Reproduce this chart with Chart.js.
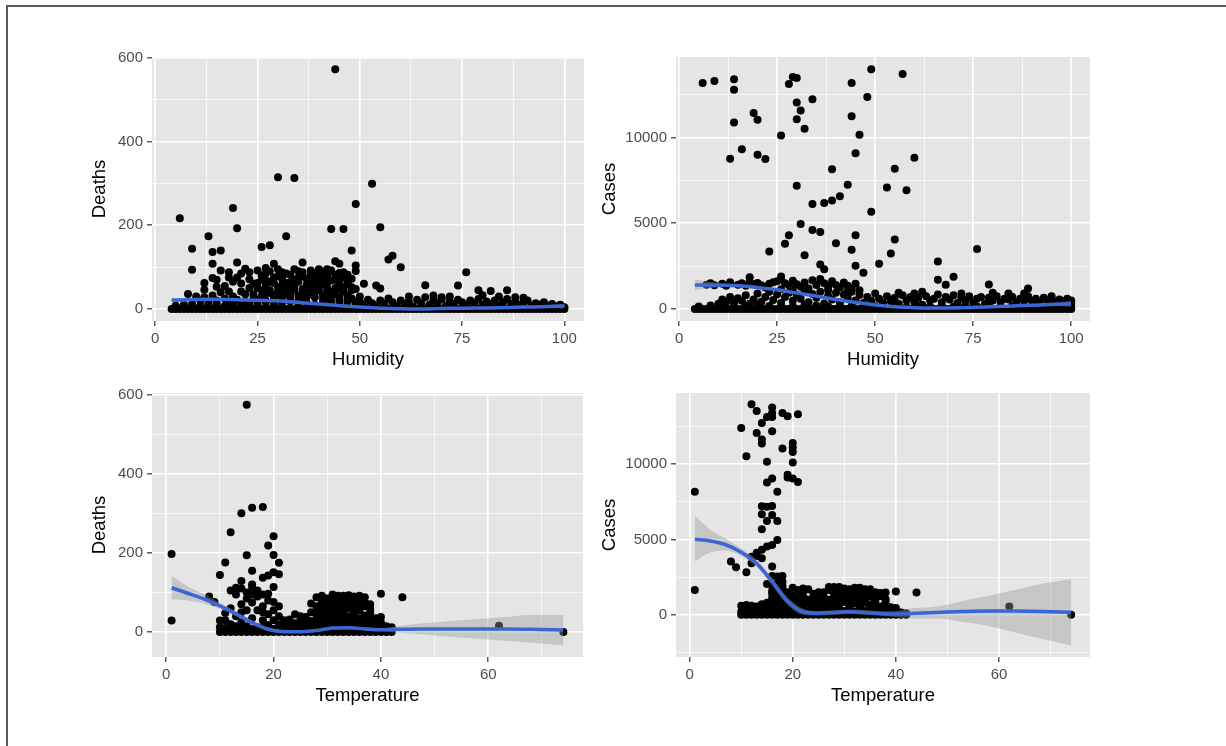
<!DOCTYPE html>
<html lang="en">
<head>
<meta charset="UTF-8">
<title>Deaths and cases against humidity and temperature</title>
<script src="https://cdn.jsdelivr.net/npm/chart.js"></script>
<style>
    body {
        margin: 0;
        width: 1226px;
        height: 746px;
        overflow: hidden;
        position: relative;
        background: #fff;
        font-family: "Liberation Sans", Arial, sans-serif;
    }

    .frame {
        position: absolute;
        left: 6px;
        top: 5px;
        right: 0;
        bottom: 0;
        border-left: 2px solid #5a5a5a;
        border-top: 2px solid #5a5a5a;
    }

    .panel {
        position: absolute;
    }
</style>
</head>
<body>
<div class="frame"></div>
<div class="panel" style="left:80px;top:40px;width:512px;height:345px"><canvas id="humDeaths"></canvas></div>
<div class="panel" style="left:592px;top:40px;width:510px;height:345px"><canvas id="humCases"></canvas></div>
<div class="panel" style="left:80px;top:376px;width:512px;height:345px"><canvas id="tempDeaths"></canvas></div>
<div class="panel" style="left:592px;top:376px;width:510px;height:345px"><canvas id="tempCases"></canvas></div>

<script>
// axis breaks
const humidityTicks = [0, 25, 50, 75, 100];
const humidityMinor = [12.5, 37.5, 62.5, 87.5];
const temperatureTicks = [0, 20, 40, 60];
const temperatureMinor = [10, 30, 50, 70];
const deathTicks = [0, 200, 400, 600];
const deathMinor = [100, 300, 500];
const caseTicks = [0, 5000, 10000];
const caseMinor = [-2500, 2500, 7500, 12500];

// points sitting on zero
const humidityZeros = [4, 5, 6, 7, 8, 9, 10, 11, 12, 13, 14, 15, 16, 17, 18, 19, 20, 21, 22, 23, 24, 25, 26, 27, 28, 29, 30,
    31, 32, 33, 34, 35, 36, 37, 38, 39, 40, 41, 42, 43, 44, 45, 46, 47, 48, 49, 50, 51, 52, 53, 54, 55, 56, 57, 58, 59, 60,
    61, 62, 63, 64, 65, 66, 67, 68, 69, 70, 71, 72, 73, 74, 75, 76, 77, 78, 79, 80, 81, 82, 83, 84, 85, 86, 87, 88, 89, 90,
    91, 92, 93, 94, 95, 96, 97, 98, 99, 100];
const temperatureZeros = [10, 11, 12, 13, 14, 15, 16, 17, 18, 19, 20, 21, 22, 23, 24, 25, 26, 27, 28, 29, 30,
    31, 32, 33, 34, 35, 36, 37, 38, 39, 40, 41, 42];

// humidity vs deaths
const humidityDeaths = [
    [44, 573], [30, 315], [34, 313], [53, 299], [49, 251], [19, 241], [6, 217], [20, 193], [43, 191], [46, 191], [55, 195],
    [32, 174], [13, 174], [9, 144], [14, 136], [16, 140], [26, 148], [28, 152], [48, 140], [57, 118], [58, 127], [60, 100],
    [9, 94], [14, 108], [20, 111], [36, 111], [44, 114], [45, 108], [49, 104], [49, 91], [76, 88], [14, 74], [15, 53], [12, 46],
    [51, 60], [54, 56], [55, 49], [49, 48], [66, 57], [74, 56], [79, 45], [82, 43], [86, 45], [8, 36], [18, 88], [16, 92],
    [22, 96], [25, 92], [27, 98], [23, 71], [18, 42], [21, 42], [21, 61],
    [27, 85], [29, 108], [30, 95], [31, 88], [33, 82], [35, 90], [36, 78], [38, 92], [39, 85], [40, 95], [41, 88], [42, 80],
    [43, 92], [45, 86], [46, 75], [47, 82],
    [26, 70], [28, 65], [29, 75], [31, 72], [32, 62], [34, 70], [35, 65], [37, 72], [38, 60], [40, 68], [41, 75], [42, 62],
    [44, 70], [45, 60], [47, 65], [48, 72],
    [25, 50], [27, 55], [28, 45], [30, 52], [31, 42], [33, 50], [34, 56], [36, 48], [37, 40], [39, 52], [40, 45], [42, 50],
    [43, 40], [45, 48], [46, 42], [48, 52],
    [24, 35], [26, 30], [27, 38], [29, 32], [30, 25], [32, 35], [33, 28], [35, 32], [36, 25], [38, 36], [39, 28], [41, 32],
    [42, 25], [44, 35], [45, 28], [47, 33], [48, 25], [50, 30],
    [26, 80], [28, 90], [30, 78], [32, 85], [34, 95], [36, 88], [38, 80], [40, 78], [42, 95], [44, 82], [46, 88],
    [25, 62], [27, 68], [29, 62], [31, 58], [33, 64], [35, 75], [37, 58], [39, 70], [41, 60], [43, 68], [45, 72], [47, 58],
    [26, 44], [28, 38], [30, 42], [32, 52], [34, 46], [36, 38], [38, 45], [40, 55], [42, 42], [44, 50], [46, 52], [48, 45],
    [25, 22], [27, 20], [29, 24], [31, 28], [33, 38], [35, 20], [37, 30], [39, 40], [41, 22], [43, 30], [45, 20], [47, 22],
    [49, 18],
    [11, 20], [12, 28], [13, 15], [14, 32], [15, 20], [16, 40], [17, 25], [17, 55], [18, 18], [19, 65], [19, 30], [20, 22],
    [21, 85], [22, 35], [22, 18], [23, 50], [24, 25], [24, 60], [12, 62], [10, 30], [15, 70], [18, 75], [20, 75], [23, 88],
    [5, 8], [7, 10], [9, 12], [11, 8], [13, 10], [15, 12], [17, 8], [19, 12], [21, 10], [23, 14], [25, 12], [27, 16],
    [29, 10], [31, 14], [33, 18], [35, 12], [37, 16], [39, 10], [41, 14], [43, 18], [45, 12], [47, 16], [49, 10],
    [50, 18], [51, 10], [52, 22], [53, 14], [54, 8], [55, 20], [56, 12], [57, 25], [58, 16], [59, 8], [60, 20], [61, 12],
    [62, 18], [63, 6], [64, 22], [65, 14], [66, 28], [67, 10], [68, 20], [69, 15], [70, 24], [71, 8], [72, 18], [73, 12],
    [74, 22], [75, 16], [76, 10], [77, 20], [78, 14], [79, 24], [80, 10], [81, 18], [82, 12], [83, 20], [84, 8], [85, 16],
    [86, 24], [87, 12], [88, 18], [89, 10], [90, 15], [91, 20], [92, 8], [93, 14], [94, 10], [95, 16], [96, 8], [97, 12],
    [98, 6], [99, 10], [100, 4],
    [62, 30], [68, 32], [72, 30], [80, 33], [84, 30], [88, 28], [90, 27], [70, 28]
];

// humidity vs cases
const humidityCases = [
    [6, 13180], [9, 13300], [14, 13400], [14, 12790], [14, 10880], [13, 8770], [16, 9320], [19, 11430], [20, 11040],
    [20, 9000], [22, 8750], [26, 10120], [28, 13130], [29, 13540], [30, 13480], [30, 12050], [31, 11580], [30, 11070],
    [32, 10510], [34, 12230], [30, 7190], [31, 4960], [34, 6130], [34, 4610], [36, 4490], [37, 6190], [39, 6330],
    [39, 8150], [41, 6580], [43, 7250], [44, 13180], [44, 11250], [45, 9080], [46, 10160], [48, 12360], [49, 13980],
    [49, 5680], [57, 13710], [60, 8830], [53, 7090], [55, 8180], [58, 6930], [23, 3360], [27, 3810], [28, 4300],
    [32, 3130], [36, 2600], [37, 2320], [40, 3830], [44, 3460], [45, 4300], [45, 2520], [47, 2110], [51, 2640],
    [54, 3240], [55, 4060], [66, 2770], [70, 1880], [76, 3500], [79, 1430], [89, 1190],
    [66, 1700], [68, 1420], [26, 1900], [18, 1850], [24, 1560],
    [7, 1420], [8, 1500], [9, 1380], [11, 1470], [12, 1350], [13, 1560], [15, 1420], [16, 1500], [17, 1350], [18, 1600],
    [19, 1450], [20, 1520], [21, 1380], [22, 1250], [23, 1480], [25, 1620], [26, 1750], [27, 1500], [28, 1380],
    [29, 1650], [30, 1450], [31, 1300], [32, 1550], [33, 1200], [34, 1680], [35, 1400], [36, 1750], [37, 1500],
    [38, 1300], [39, 1620], [40, 1400], [41, 1250], [42, 1550], [43, 1350], [44, 1200], [45, 1480], [46, 1100],
    [10, 300], [11, 550], [12, 420], [13, 700], [14, 350], [15, 620], [16, 480], [17, 800], [18, 300], [19, 560],
    [20, 900], [21, 420], [22, 700], [23, 1000], [24, 520], [25, 850], [26, 350], [27, 700], [28, 950], [29, 480],
    [30, 820], [31, 600], [32, 1050], [33, 400], [34, 880], [35, 650], [36, 1000], [37, 320], [38, 780], [39, 550],
    [40, 950], [41, 400], [42, 850], [43, 650], [44, 1000], [45, 500], [46, 820], [47, 350], [48, 700], [49, 480],
    [50, 900], [26, 1150], [29, 1100], [33, 1000], [38, 1100], [43, 1050],
    [5, 150], [8, 200], [11, 150], [14, 220], [17, 160], [20, 240], [23, 180], [26, 220], [29, 160], [32, 240],
    [35, 200], [38, 150], [41, 250], [44, 180], [47, 220], [50, 160],
    [51, 600], [52, 350], [53, 750], [54, 450], [55, 650], [56, 300], [57, 800], [58, 500], [59, 700], [60, 400],
    [61, 650], [62, 250], [63, 750], [64, 500], [65, 600], [66, 850], [67, 400], [68, 700], [69, 550], [70, 800],
    [71, 350], [72, 650], [73, 500], [74, 750], [75, 400], [76, 600], [77, 700], [78, 300], [79, 650], [80, 500],
    [81, 750], [82, 400], [83, 600], [84, 550], [85, 700], [86, 350], [87, 600], [88, 500], [89, 750], [90, 450],
    [91, 600], [92, 350], [93, 650], [94, 500], [95, 600], [96, 400], [97, 550], [98, 450], [99, 600], [100, 350],
    [100, 500],
    [52, 150], [55, 200], [58, 120], [61, 180], [64, 150], [67, 200], [70, 140], [73, 190], [76, 150], [79, 200],
    [82, 130], [85, 180], [88, 160], [91, 200], [94, 140], [97, 180], [100, 150],
    [56, 950], [62, 1000], [72, 900], [80, 950], [88, 900], [95, 750], [84, 900], [60, 900]
];

// temperature vs deaths
const temperatureDeaths = [
    [1, 197], [1, 29], [15, 574], [18, 316], [16, 314], [14, 300], [12, 252], [20, 242], [19, 219], [15, 194], [20, 195],
    [11, 176], [21, 175], [16, 155], [21, 146], [20, 151], [19, 143], [18, 137], [10, 144], [14, 129], [13, 112],
    [16, 114], [20, 114], [19, 97], [20, 76], [8, 90], [9, 76], [11, 48], [10, 29], [40, 97], [44, 88], [40, 38],
    [62, 16], [74, 0],
    [12, 20], [12, 60], [13, 95], [13, 40], [14, 110], [14, 70], [14, 25], [15, 100], [15, 55], [15, 85], [16, 120],
    [16, 75], [16, 35], [17, 90], [17, 55], [17, 105], [18, 65], [18, 30], [18, 95], [19, 45], [19, 80], [20, 55],
    [20, 30], [21, 40], [21, 65], [13, 15], [15, 15], [17, 12], [19, 18], [21, 20], [12, 105], [16, 95], [18, 50],
    [14, 50], [11, 30], [11, 10], [12, 8], [13, 5], [14, 8], [10, 12], [16, 8], [18, 10], [20, 8], [22, 15], [22, 30],
    [28, 88], [29, 92], [30, 85], [31, 95], [32, 88], [33, 92], [34, 85], [35, 90], [36, 82], [37, 88],
    [27, 72], [28, 65], [29, 78], [30, 70], [31, 62], [32, 75], [33, 68], [34, 72], [35, 60], [36, 70], [37, 65], [38, 58],
    [24, 45], [25, 40], [26, 38], [27, 50], [28, 48], [29, 42], [30, 55], [31, 50], [32, 45], [33, 52], [34, 40],
    [35, 48], [36, 55], [37, 42], [38, 50], [39, 35],
    [22, 25], [23, 32], [24, 22], [25, 30], [26, 20], [27, 28], [28, 22], [29, 30], [30, 25], [31, 20], [32, 28],
    [33, 22], [34, 30], [35, 25], [36, 18], [37, 28], [38, 22], [39, 18], [40, 25], [41, 15], [42, 12],
    [22, 8], [23, 12], [24, 6], [25, 10], [26, 5], [27, 12], [28, 8], [29, 10], [30, 6], [31, 12], [32, 8], [33, 10],
    [34, 5], [35, 12], [36, 8], [37, 10], [38, 6], [39, 10], [40, 8], [41, 6],
    [23, 18], [25, 16], [27, 18], [29, 16], [31, 35], [33, 36], [35, 36], [37, 16], [39, 26], [26, 30], [28, 35],
    [30, 38], [32, 18], [34, 16], [36, 35], [38, 36], [40, 15],
    [29, 60], [30, 63], [32, 58], [33, 80], [34, 60], [35, 78], [36, 62], [31, 80], [29, 85], [32, 92], [34, 93],
    [36, 92], [37, 75], [38, 70], [30, 45], [31, 32]
];

// temperature vs cases
const temperatureCases = [
    [12, 13970], [13, 13530], [14, 12730], [15, 13130], [16, 13750], [16, 13400], [16, 13130], [18, 13400], [19, 13180],
    [21, 13310], [10, 12400], [13, 12070], [14, 11630], [14, 11370], [16, 12180], [18, 11040], [20, 11410], [20, 11100],
    [20, 10810], [11, 10530], [15, 10150], [20, 10110], [15, 8780], [16, 9050], [19, 9290], [19, 9120], [20, 9050],
    [21, 8810], [1, 8170], [17, 8170], [14, 7200], [15, 7170], [16, 7220], [14, 6670], [16, 6620], [15, 6220],
    [17, 6220], [14, 5670], [17, 4970], [16, 4640], [15, 4530], [14, 4310], [13, 4120], [12, 3860], [13, 3900],
    [12, 3420], [14, 3750], [8, 3530], [9, 3160], [11, 2830], [16, 3200], [16, 2580], [17, 2540], [18, 2580],
    [1, 1650], [44, 1480], [40, 1540], [38, 1480], [62, 550], [74, 0],
    [10, 600], [11, 650], [12, 300], [13, 550], [14, 400], [15, 800], [16, 1100], [16, 1600], [17, 1300], [17, 900],
    [18, 1700], [18, 1200], [19, 1500], [19, 800], [20, 1800], [20, 1300], [21, 1650], [21, 1000], [22, 1750],
    [22, 1200], [15, 400], [16, 700], [17, 500], [18, 900], [19, 400], [20, 600], [21, 500], [22, 800], [16, 2000],
    [17, 2100], [18, 2200], [15, 2050],
    [10, 200], [11, 300], [12, 600], [13, 250], [14, 700], [15, 200], [16, 300], [17, 200], [18, 400], [19, 200],
    [20, 300], [21, 200], [22, 400], [16, 1400], [17, 1700], [18, 1900], [19, 1100], [20, 1000], [21, 1300],
    [23, 1700], [25, 1500], [27, 1650], [28, 1850], [29, 1600], [30, 1750], [31, 1500], [32, 1800], [33, 1650],
    [34, 1550], [35, 1700], [36, 1500],
    [22, 1300], [24, 1100], [25, 1350], [26, 1200], [27, 1000], [28, 1300], [29, 1150], [30, 1400], [31, 1100],
    [32, 1250], [33, 1050], [34, 1350], [35, 1200], [36, 1000], [37, 1250], [38, 900],
    [22, 600], [23, 800], [24, 650], [25, 750], [26, 550], [27, 800], [28, 650], [29, 700], [30, 850], [31, 600],
    [32, 750], [33, 550], [34, 800], [35, 650], [36, 700], [37, 550], [38, 650], [39, 500], [40, 450],
    [22, 250], [23, 300], [24, 200], [25, 350], [26, 250], [27, 300], [28, 200], [29, 350], [30, 250], [31, 300],
    [32, 200], [33, 350], [34, 250], [35, 300], [36, 200], [37, 300], [38, 250], [39, 200], [40, 250], [41, 150],
    [42, 100],
    [22, 450], [23, 1000], [24, 450], [25, 1000], [26, 900], [27, 450], [28, 1000], [29, 450], [30, 1050], [31, 450],
    [32, 1000], [33, 450], [34, 1050], [35, 450], [36, 950], [37, 450], [38, 1050], [39, 300], [40, 350],
    [24, 1400], [26, 1500], [28, 1550], [30, 1600], [32, 1450], [33, 1400], [34, 1700], [36, 1300], [37, 1450],
    [27, 1850], [29, 1850], [31, 1700], [33, 1800]
];

// smoothers (fit, lower and upper band)
const humidityFitX = [4, 8, 12, 16, 20, 24, 28, 32, 36, 40, 44, 48, 52, 56, 60, 64, 68, 72, 76, 80, 84, 88, 92, 96, 100];
const humDeathsFit = [21, 22, 23, 23, 22, 21, 20, 18, 15, 12, 9, 6, 3.5, 1.5, 0.5, 0, 0.5, 1.5, 2, 2.5, 3, 4, 5, 6, 7];
const humDeathsLo = [16, 18, 20, 20, 20, 19, 18, 16, 13, 10, 7, 4, 1.5, -0.5, -1.5, -2, -1.5, -0.5, 0, 0.5, 1, 1.5, 2, 2.5, 2];
const humDeathsHi = [26, 26, 26, 26, 24, 23, 22, 20, 17, 14, 11, 8, 5.5, 3.5, 2.5, 2, 2.5, 3.5, 4, 4.5, 5, 6.5, 8, 9.5, 12];
const humCasesFit = [1400, 1400, 1380, 1340, 1260, 1150, 1010, 860, 710, 560, 420, 300, 190, 110, 70, 55, 60, 75, 100,
    130, 165, 200, 235, 270, 310];
const humCasesLo = [1080, 1220, 1280, 1260, 1190, 1085, 950, 800, 650, 500, 360, 240, 130, 50, 10, 0, 5, 20, 45, 75,
    105, 135, 160, 175, 130];
const humCasesHi = [1720, 1580, 1480, 1420, 1330, 1215, 1070, 920, 770, 620, 480, 360, 250, 170, 130, 110, 115, 130,
    155, 185, 225, 265, 310, 365, 490];

const temperatureFitX = [1, 4, 7, 10, 13, 16, 19, 22, 25, 28, 31, 34, 37, 40, 43, 48, 53, 58, 63, 68, 74];
const tempDeathsFit = [112, 98, 84, 66, 46, 24, 7, 1, 1, 4, 10, 11, 8, 6, 7, 8, 8, 8, 8, 7, 5];
const tempDeathsLo = [82, 80, 72, 58, 40, 18, 2, -3, -3, 0, 6, 7, 4, 2, -1, -6, -12, -17, -22, -27, -33];
const tempDeathsHi = [143, 116, 96, 74, 52, 30, 12, 5, 5, 8, 14, 15, 12, 10, 15, 22, 28, 33, 38, 43, 43];
const tempCasesFit = [5010, 4900, 4650, 4150, 3400, 2200, 900, 200, 100, 150, 200, 150, 90, 50, 90, 150, 220, 260,
    250, 220, 170];
const tempCasesLo = [3540, 4150, 4250, 3900, 3150, 1950, 650, 0, -50, 0, 50, 0, -60, -150, -250, -250, -480, -740,
    -1150, -1580, -2030];
const tempCasesHi = [6550, 5650, 5050, 4400, 3650, 2450, 1150, 400, 250, 300, 350, 300, 240, 250, 430, 550, 920,
    1260, 1650, 2020, 2370];

const fontFamily = '"Liberation Sans", Arial, sans-serif';

// grey panel background like ggplot
const panelBackground = {
    id: 'panelBackground',
    beforeDraw(chart) {
        const a = chart.chartArea;
        const ctx = chart.ctx;
        ctx.save();
        ctx.fillStyle = '#E5E5E5';
        ctx.fillRect(a.left, a.top, a.right - a.left, a.bottom - a.top);
        ctx.restore();
    }
};

function axis(title, min, max, major, minor, size, titlePadding) {
    const all = major.concat(minor).sort((a, b) => a - b);
    const isMajor = c => c.tick && major.includes(c.tick.value);
    return {
        type: 'linear',
        min: min,
        max: max,
        afterBuildTicks: s => { s.ticks = all.map(v => ({ value: v })); },
        afterFit: s => {
            if (s.isHorizontal()) s.height = size; else s.width = size;
        },
        ticks: {
            color: '#4D4D4D',
            font: { family: fontFamily, size: 15 },
            padding: 4,
            autoSkip: false,
            maxRotation: 0,
            callback: v => major.includes(v) ? String(v) : ''
        },
        grid: {
            color: '#FFFFFF',
            lineWidth: c => isMajor(c) ? 1.6 : 0.7,
            tickLength: 5,
            tickWidth: 1.2,
            tickColor: c => isMajor(c) ? '#333333' : 'rgba(0,0,0,0)'
        },
        border: { display: false },
        title: {
            display: true,
            text: title,
            color: '#000000',
            font: { family: fontFamily, size: 18.5 },
            padding: titlePadding
        }
    };
}

function makePanel(id, p) {
    const points = p.points.map(d => ({ x: d[0], y: d[1] }));
    p.zeros.forEach(x => points.push({ x: x, y: 0 }));
    const curve = ys => p.fitX.map((x, i) => ({ x: x, y: ys[i] }));

    new Chart(document.getElementById(id), {
        type: 'scatter',
        data: {
            datasets: [
                { data: curve(p.fit), showLine: true, borderColor: '#3A66D6', borderWidth: 3.5, pointRadius: 0,
                  cubicInterpolationMode: 'monotone', fill: false, order: 0 },
                { data: curve(p.lo), showLine: true, borderWidth: 0, borderColor: 'rgba(0,0,0,0)', pointRadius: 0,
                  cubicInterpolationMode: 'monotone', fill: false, order: 1 },
                { data: curve(p.hi), showLine: true, borderWidth: 0, borderColor: 'rgba(0,0,0,0)', pointRadius: 0,
                  cubicInterpolationMode: 'monotone', fill: '-1', backgroundColor: 'rgba(153,153,153,0.4)', order: 1 },
                { data: points, pointRadius: 4, pointBackgroundColor: '#000000', pointBorderWidth: 0,
                  backgroundColor: '#000000', order: 2 }
            ]
        },
        options: {
            responsive: true,
            maintainAspectRatio: false,
            animation: false,
            events: [],
            layout: { padding: { left: 0, right: p.padRight, top: 17, bottom: 4 } },
            plugins: { legend: { display: false }, tooltip: { enabled: false } },
            scales: {
                x: axis(p.xTitle, p.xMin, p.xMax, p.xMajor, p.xMinor, 60, { top: 0, bottom: 10 }),
                y: axis(p.yTitle, p.yMin, p.yMax, p.yMajor, p.yMinor, p.yWidth, { top: p.yTitlePad, bottom: 0 })
            }
        },
        plugins: [panelBackground]
    });
}

makePanel('humDeaths', {
    points: humidityDeaths, zeros: humidityZeros,
    fitX: humidityFitX, fit: humDeathsFit, lo: humDeathsLo, hi: humDeathsHi,
    xTitle: 'Humidity', xMin: -0.8, xMax: 104.8, xMajor: humidityTicks, xMinor: humidityMinor,
    yTitle: 'Deaths', yMin: -28.7, yMax: 602, yMajor: deathTicks, yMinor: deathMinor,
    yWidth: 72, yTitlePad: 9, padRight: 8
});

makePanel('humCases', {
    points: humidityCases, zeros: humidityZeros,
    fitX: humidityFitX, fit: humCasesFit, lo: humCasesLo, hi: humCasesHi,
    xTitle: 'Humidity', xMin: -0.8, xMax: 104.8, xMajor: humidityTicks, xMinor: humidityMinor,
    yTitle: 'Cases', yMin: -700, yMax: 14700, yMajor: caseTicks, yMinor: caseMinor,
    yWidth: 84, yTitlePad: 7, padRight: 12
});

makePanel('tempDeaths', {
    points: temperatureDeaths, zeros: temperatureZeros,
    fitX: temperatureFitX, fit: tempDeathsFit, lo: tempDeathsLo, hi: tempDeathsHi,
    xTitle: 'Temperature', xMin: -2.65, xMax: 77.65, xMajor: temperatureTicks, xMinor: temperatureMinor,
    yTitle: 'Deaths', yMin: -63, yMax: 604, yMajor: deathTicks, yMinor: deathMinor,
    yWidth: 72, yTitlePad: 9, padRight: 9
});

makePanel('tempCases', {
    points: temperatureCases, zeros: temperatureZeros,
    fitX: temperatureFitX, fit: tempCasesFit, lo: tempCasesLo, hi: tempCasesHi,
    xTitle: 'Temperature', xMin: -2.65, xMax: 77.65, xMajor: temperatureTicks, xMinor: temperatureMinor,
    yTitle: 'Cases', yMin: -2800, yMax: 14720, yMajor: caseTicks, yMinor: caseMinor,
    yWidth: 84, yTitlePad: 7, padRight: 12
});
</script>
</body>
</html>
